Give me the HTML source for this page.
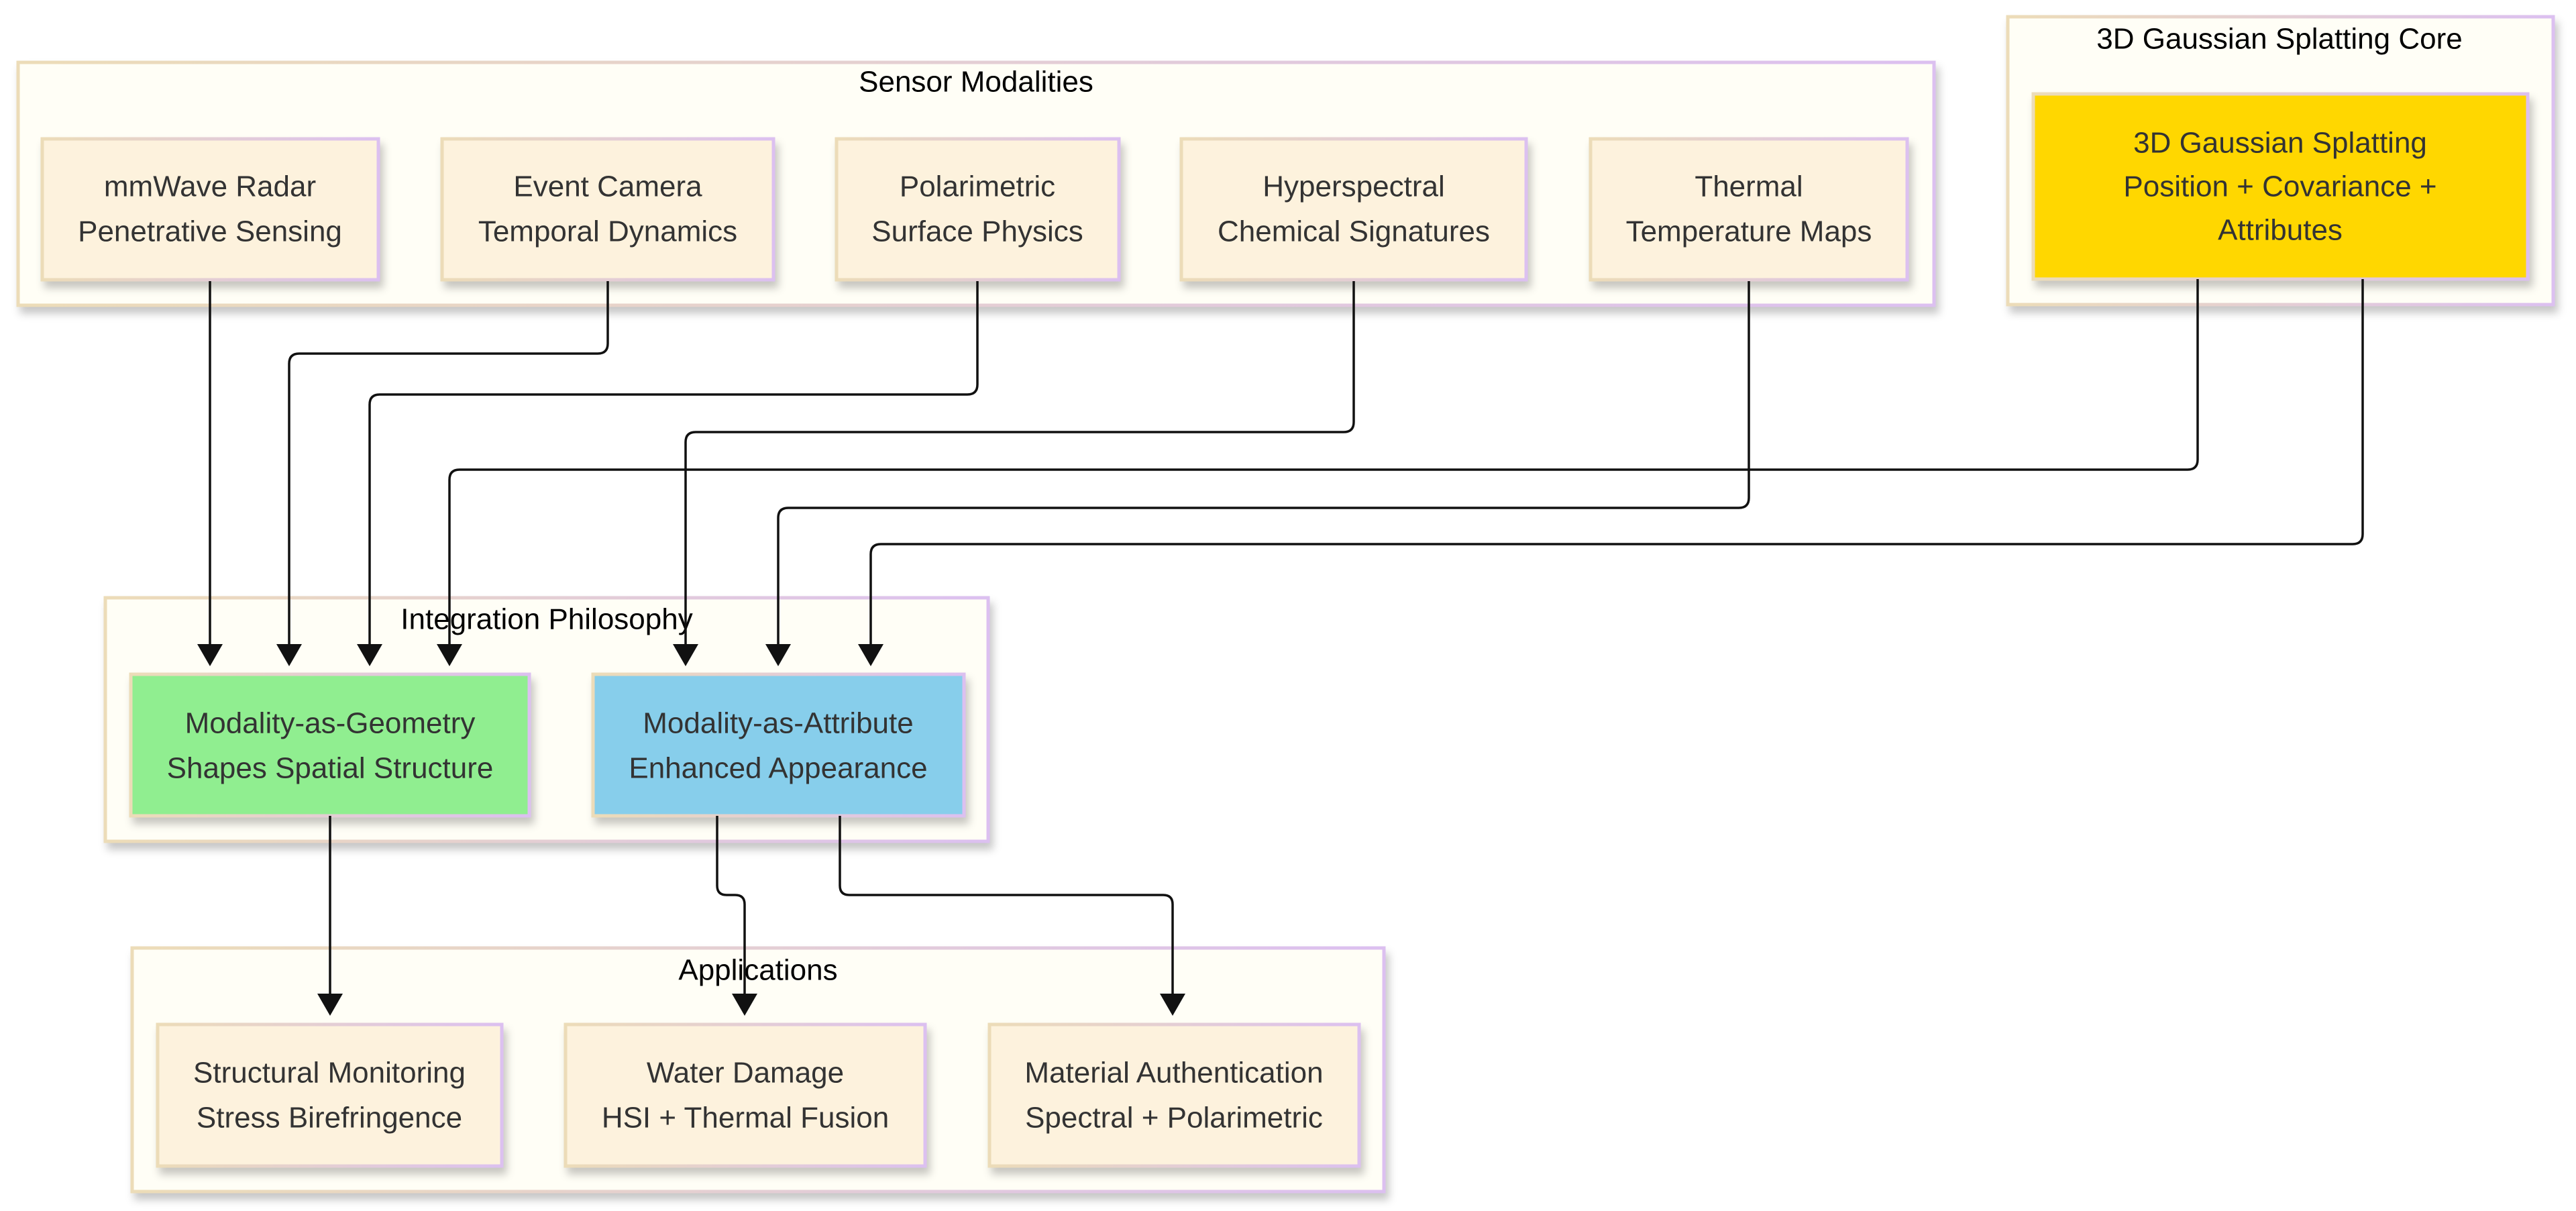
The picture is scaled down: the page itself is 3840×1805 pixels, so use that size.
<!DOCTYPE html>
<html><head><meta charset="utf-8"><style>
html,body{margin:0;padding:0;background:#fff;}
svg{display:block;}
text{font-family:"Liberation Sans",sans-serif;}
.n{fill:#333;font-size:44px;text-anchor:middle;dominant-baseline:central;}
.t{fill:#000;font-size:44px;text-anchor:middle;dominant-baseline:central;}
.e{fill:none;stroke:#111;stroke-width:3.5;}
</style></head><body>
<svg width="3840" height="1805" viewBox="0 0 3840 1805" xmlns="http://www.w3.org/2000/svg">
<defs>
<linearGradient id="g" x1="0" y1="0" x2="1" y2="0">
<stop offset="0" stop-color="#ecdcb8"/><stop offset="1" stop-color="#dcc0f0"/>
</linearGradient>
<filter id="sh" x="-10%" y="-10%" width="130%" height="140%">
<feDropShadow dx="5" dy="10" stdDeviation="6" flood-color="#000" flood-opacity="0.22"/>
</filter>
</defs>
<g stroke="url(#g)" stroke-width="5" filter="url(#sh)">
<rect x="27" y="93" width="2856" height="362" fill="#fffef6"/>
<rect x="2993" y="25" width="813" height="429" fill="#fffef6"/>
<rect x="157" y="891" width="1316" height="363" fill="#fffef6"/>
<rect x="197" y="1413" width="1866" height="363" fill="#fffef6"/>
</g>
<text class="t" x="1455" y="122">Sensor Modalities</text>
<text class="t" x="3398" y="58">3D Gaussian Splatting Core</text>
<text class="t" x="815" y="923">Integration Philosophy</text>
<text class="t" x="1130" y="1446">Applications</text>
<g stroke="url(#g)" stroke-width="5" filter="url(#sh)">
<rect x="63" y="207" width="501" height="210" fill="#fdf2dd"/>
<rect x="659" y="207" width="494" height="210" fill="#fdf2dd"/>
<rect x="1247" y="207" width="421" height="210" fill="#fdf2dd"/>
<rect x="1761" y="207" width="514" height="210" fill="#fdf2dd"/>
<rect x="2371" y="207" width="472" height="210" fill="#fdf2dd"/>
<rect x="3031" y="140" width="737" height="276" fill="#ffd700"/>
<rect x="195" y="1005" width="594" height="211" fill="#90ee90"/>
<rect x="884" y="1005" width="553" height="211" fill="#87ceeb"/>
<rect x="235" y="1527" width="513" height="211" fill="#fdf2dd"/>
<rect x="843" y="1527" width="536" height="211" fill="#fdf2dd"/>
<rect x="1475" y="1527" width="551" height="211" fill="#fdf2dd"/>
</g>
<text class="n" x="313" y="278">mmWave Radar</text><text class="n" x="313" y="345">Penetrative Sensing</text>
<text class="n" x="906" y="278">Event Camera</text><text class="n" x="906" y="345">Temporal Dynamics</text>
<text class="n" x="1457" y="278">Polarimetric</text><text class="n" x="1457" y="345">Surface Physics</text>
<text class="n" x="2018" y="278">Hyperspectral</text><text class="n" x="2018" y="345">Chemical Signatures</text>
<text class="n" x="2607" y="278">Thermal</text><text class="n" x="2607" y="345">Temperature Maps</text>
<text class="n" x="3399" y="213">3D Gaussian Splatting</text><text class="n" x="3399" y="278">Position + Covariance +</text><text class="n" x="3399" y="343">Attributes</text>
<text class="n" x="492" y="1078">Modality-as-Geometry</text><text class="n" x="492" y="1145">Shapes Spatial Structure</text>
<text class="n" x="1160" y="1078">Modality-as-Attribute</text><text class="n" x="1160" y="1145">Enhanced Appearance</text>
<text class="n" x="491" y="1599">Structural Monitoring</text><text class="n" x="491" y="1666">Stress Birefringence</text>
<text class="n" x="1111" y="1599">Water Damage</text><text class="n" x="1111" y="1666">HSI + Thermal Fusion</text>
<text class="n" x="1750" y="1599">Material Authentication</text><text class="n" x="1750" y="1666">Spectral + Polarimetric</text>
<g class="e">
<path d="M313,419 V962"/>
<path d="M906,419 V512 Q906,527 891,527 H446 Q431,527 431,542 V962"/>
<path d="M1457,419 V573 Q1457,588 1442,588 H566 Q551,588 551,603 V962"/>
<path d="M2018,419 V629 Q2018,644 2003,644 H1037 Q1022,644 1022,659 V962"/>
<path d="M3276,416 V685 Q3276,700 3261,700 H685 Q670,700 670,715 V962"/>
<path d="M2607,419 V742 Q2607,757 2592,757 H1175 Q1160,757 1160,772 V962"/>
<path d="M3522,416 V796 Q3522,811 3507,811 H1313 Q1298,811 1298,826 V962"/>
<path d="M492,1216 V1484"/>
<path d="M1069,1216 V1320 Q1069,1334 1083,1334 H1096 Q1110,1334 1110,1348 V1484"/>
<path d="M1252,1216 V1320 Q1252,1334 1266,1334 H1734 Q1748,1334 1748,1348 V1484"/>
</g>
<g fill="#111">
<polygon points="294,960 332,960 313,993"/>
<polygon points="412,960 450,960 431,993"/>
<polygon points="532,960 570,960 551,993"/>
<polygon points="651,960 689,960 670,993"/>
<polygon points="1003,960 1041,960 1022,993"/>
<polygon points="1141,960 1179,960 1160,993"/>
<polygon points="1279,960 1317,960 1298,993"/>
<polygon points="473,1481 511,1481 492,1514"/>
<polygon points="1091,1481 1129,1481 1110,1514"/>
<polygon points="1729,1481 1767,1481 1748,1514"/>
</g>
</svg>
</body></html>
